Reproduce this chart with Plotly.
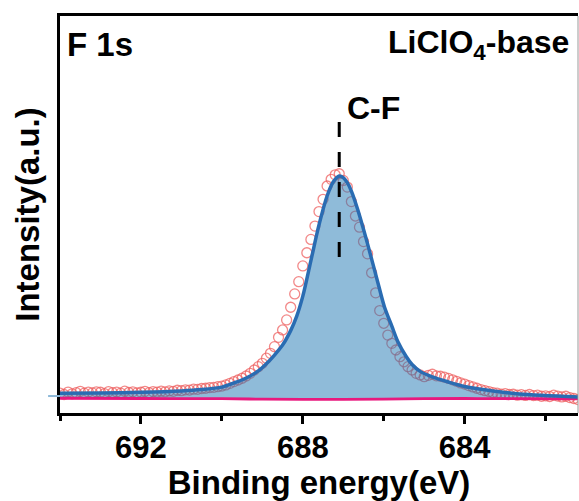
import plotly.graph_objects as go

# F 1s high-resolution scan (binding energy in eV, intensity in a.u.)
scan_be = [
    694.0, 693.9, 693.8, 693.7, 693.6, 693.5, 693.4, 693.3, 693.2, 693.1,
    693.0, 692.9, 692.8, 692.7, 692.6, 692.5, 692.4, 692.3, 692.2, 692.1,
    692.0, 691.9, 691.8, 691.7, 691.6, 691.5, 691.4, 691.3, 691.2, 691.1,
    691.0, 690.9, 690.8, 690.7, 690.6, 690.5, 690.4, 690.3, 690.2, 690.1,
    690.0, 689.9, 689.8, 689.7, 689.6, 689.5, 689.4, 689.3, 689.2, 689.1,
    689.0, 688.9, 688.8, 688.7, 688.6, 688.5, 688.4, 688.3, 688.2, 688.1,
    688.0, 687.9, 687.8, 687.7, 687.6, 687.5, 687.4, 687.3, 687.2, 687.1,
    687.0, 686.9, 686.8, 686.7, 686.6, 686.5, 686.4, 686.3, 686.2, 686.1,
    686.0, 685.9, 685.8, 685.7, 685.6, 685.5, 685.4, 685.3, 685.2, 685.1,
    685.0, 684.9, 684.8, 684.7, 684.6, 684.5, 684.4, 684.3, 684.2, 684.1,
    684.0, 683.9, 683.8, 683.7, 683.6, 683.5, 683.4, 683.3, 683.2, 683.1,
    683.0, 682.9, 682.8, 682.7, 682.6, 682.5, 682.4, 682.3, 682.2, 682.1,
    682.0, 681.9, 681.8, 681.7, 681.6, 681.5, 681.4, 681.3, 681.2,
]
scan_int = [
    2.4, 1.8, 2.9, 2.1, 2.6, 3.2, 2.4, 2.9, 2.5, 3.0,
    2.8, 2.2, 3.1, 2.6, 2.9, 2.4, 3.3, 2.7, 3.0, 2.5,
    2.8, 3.2, 2.6, 3.1, 2.9, 3.3, 3.0, 3.4, 3.2, 3.7,
    3.5, 3.9, 3.8, 4.2, 4.1, 4.5, 4.6, 4.9, 5.0, 5.3,
    5.6, 6.1, 6.8, 7.6, 8.3, 9.1, 10.1, 11.3, 12.8, 14.3,
    15.8, 18.1, 20.3, 23.3, 27.5, 30.8, 35.3, 41.0, 47.0, 52.5,
    59.6, 65.5, 71.5, 77.5, 84.0, 89.5, 95.5, 98.5, 100.5, 101.0,
    98.0, 95.0, 88.5, 82.0, 77.0, 70.5, 65.0, 56.5, 47.5, 39.5,
    33.8, 28.5, 24.8, 21.8, 18.8, 16.5, 14.3, 12.8, 11.3, 10.6,
    9.8, 10.4, 10.9, 10.2, 10.0, 9.6, 9.0, 8.4, 7.7, 7.0,
    6.5, 5.8, 5.2, 4.6, 4.0, 3.5, 3.1, 2.6, 2.4, 2.0,
    2.2, 1.8, 1.9, 1.5, 1.7, 1.4, 1.8, 1.3, 1.5, 1.0,
    1.2, 0.9, 1.5, 1.1, 0.7, 1.0, 0.4, 0.0, -0.5,
]

# C-F component envelope
fit_be = [
    694.0, 693.0, 692.0, 691.0, 690.5, 690.0, 689.8, 689.4, 689.1, 688.9,
    688.7, 688.5, 688.3, 688.15, 688.0, 687.8, 687.6, 687.4, 687.25, 687.1,
    687.0, 686.9, 686.8, 686.64, 686.4, 686.12, 685.98, 685.8, 685.65, 685.45,
    685.3, 685.1, 684.8, 684.4, 684.0, 683.46, 682.64, 681.2,
]
fit_int = [
    2.3, 2.5, 2.8, 3.4, 4.0, 5.1, 6.3, 9.2, 12.4, 15.6,
    19.5, 24.0, 30.5, 37.0, 46.0, 62.0, 78.0, 91.0, 97.3, 100.0,
    99.3, 97.0, 93.2, 84.7, 69.5, 50.3, 41.0, 32.5, 25.5, 19.0,
    15.3, 12.2, 9.7, 7.4, 5.4, 3.8, 2.0, 0.7,
]

# Shirley-type background
bg_be = [694.0, 692.0, 690.0, 689.0, 688.0, 687.0, 686.0, 685.0, 684.0, 683.0, 681.2]
bg_int = [0.1, 0.0, -0.1, -0.3, -0.4, -0.4, -0.3, -0.1, 0.0, -0.1, -0.2]

peak_be = 687.1
marker_span = [63.6, 126.1]

x_range = [694.0, 681.2]
y_range = [-6.52, 171.9]
major_ticks = [692, 688, 684]
minor_ticks = [694, 690, 686, 682]

FONT = "Liberation Sans, Arial, Helvetica, sans-serif"

fig = go.Figure()

fig.add_trace(go.Scatter(
    x=scan_be, y=scan_int, mode="markers",
    marker=dict(symbol="circle-open", size=10, color="rgba(238,96,96,0.75)",
                line=dict(width=1.3, color="rgba(238,96,96,0.75)")),
    showlegend=False, hoverinfo="skip",
))
fig.add_trace(go.Scatter(
    x=bg_be, y=bg_int, mode="lines", line=dict(color="#E8197E", width=2.8, shape="spline"),
    showlegend=False, hoverinfo="skip",
))
fig.add_trace(go.Scatter(
    x=fit_be, y=fit_int, mode="lines", fill="tonexty",
    fillcolor="rgba(31,119,180,0.5)",
    line=dict(color="#2A6CB2", width=3.5, shape="spline", smoothing=0.8),
    showlegend=False, hoverinfo="skip",
))
fig.add_trace(go.Scatter(
    x=[peak_be, peak_be], y=marker_span, mode="lines",
    line=dict(color="black", width=3, dash="15px,15px"),
    showlegend=False, hoverinfo="skip",
))

fig.update_layout(
    width=579, height=501,
    margin=dict(l=60, r=1, t=16, b=88),
    paper_bgcolor="white", plot_bgcolor="white",
    font=dict(family=FONT, color="black"),
    xaxis=dict(
        range=x_range, showgrid=False, zeroline=False,
        showline=True, linecolor="black", linewidth=3, mirror=True,
        ticks="outside", ticklen=8, tickwidth=3, tickcolor="black",
        tickvals=major_ticks, ticktext=[str(v) for v in major_ticks],
        tickfont=dict(size=31, family=FONT, weight="bold"),
        ticklabelstandoff=-3,
        minor=dict(tickvals=minor_ticks, ticks="outside", ticklen=5,
                   tickwidth=3, tickcolor="black"),
        title=dict(text="Binding energy(eV)", standoff=0,
                   font=dict(size=33, family=FONT, weight="bold")),
    ),
    yaxis=dict(
        range=y_range, showgrid=False, zeroline=False,
        showline=True, linecolor="black", linewidth=3, mirror=False,
        showticklabels=False, ticks="",
        title=dict(text="Intensity(a.u.)", standoff=8,
                   font=dict(size=33, family=FONT, weight="bold")),
    ),
    shapes=[
        dict(type="line", xref="paper", yref="paper", x0=1, x1=1, y0=0, y1=1,
             line=dict(color="#9a9a9a", width=1)),
        dict(type="line", xref="paper", yref="y", x0=-0.023, x1=0, y0=1.1, y1=1.1,
             line=dict(color="#8DB8D8", width=2)),
    ],
    annotations=[
        dict(text="F 1s", xref="paper", yref="paper", x=0.01, y=(413 - 45) / 397,
             xanchor="left", yanchor="middle", showarrow=False,
             font=dict(size=33, family=FONT, weight="bold")),
        dict(text="LiClO<sub>4</sub>-base", xref="paper", yref="paper",
             x=(571 - 60) / 518, y=(413 - 44) / 397,
             xanchor="right", yanchor="middle", showarrow=False,
             font=dict(size=32, family=FONT, weight="bold")),
        dict(text="C-F", xref="paper", yref="paper",
             x=(345 - 60) / 518, y=(413 - 108) / 397,
             xanchor="left", yanchor="middle", showarrow=False,
             font=dict(size=32, family=FONT, weight="bold")),
    ],
)

fig.write_html("out.html")
